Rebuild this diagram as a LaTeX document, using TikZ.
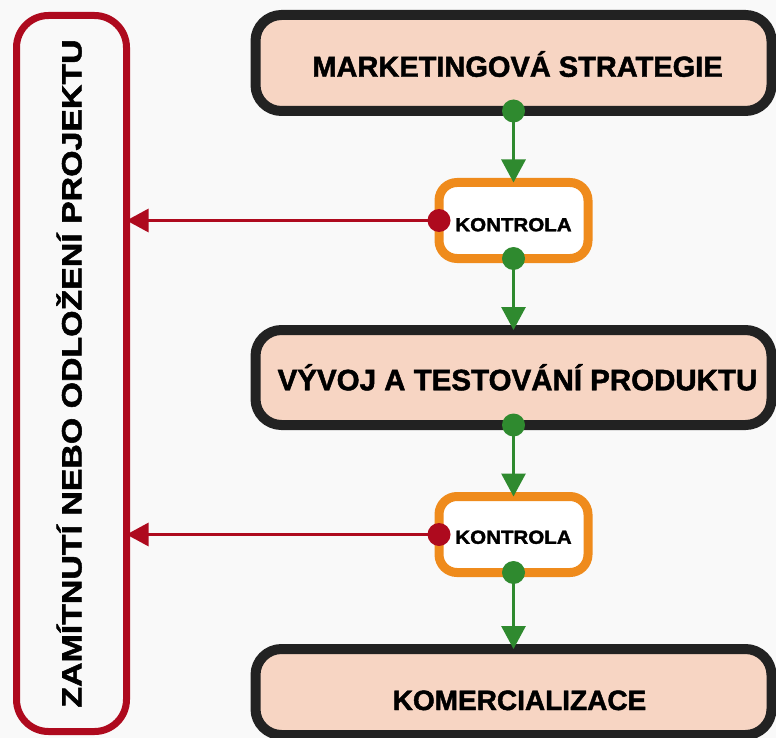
\documentclass[tikz,border=0pt]{standalone}
\usepackage{fontspec}
\setmainfont{Liberation Sans}[BoldFeatures={FakeBold=1.6}]
\usetikzlibrary{arrows.meta}
\definecolor{peach}{HTML}{F7D5C3}
\definecolor{darkline}{HTML}{222222}
\definecolor{orangeline}{HTML}{EF8B1C}
\definecolor{redline}{HTML}{AE0A1E}
\definecolor{greenline}{HTML}{2F8A2F}
\definecolor{bg}{HTML}{F9F9F9}
\begin{document}
\begin{tikzpicture}[x=1pt,y=-1pt,
  stagebox/.style={draw=darkline, fill=peach, line width=10pt, rounded corners=26pt,
    outer sep=0pt, inner sep=0pt, minimum width=516pt,
    font=\bfseries\fontsize{29}{31}\selectfont, text height=20.5pt, text depth=0pt},
  checkbox/.style={draw=orangeline, fill=white, line width=9pt, rounded corners=18pt,
    outer sep=0pt, inner sep=0pt, minimum width=149pt, minimum height=76pt,
    font=\bfseries\fontsize{19}{21}\selectfont, text height=13.6pt, text depth=0pt},
  rejectbox/.style={draw=redline, fill=bg, line width=7pt, rounded corners=32pt, rotate=90,
    outer sep=0pt, inner sep=0pt, minimum width=716pt, minimum height=110pt,
    font=\bfseries\fontsize{28}{30}\selectfont, text height=20pt, text depth=0pt},
  gdot/.style={circle, fill=greenline, minimum size=23pt, inner sep=0pt},
  rdot/.style={circle, fill=redline, minimum size=23pt, inner sep=0pt},
  garrow/.style={draw=greenline, line width=3pt, -{Triangle[width=24pt,length=23pt]}},
  rarrow/.style={draw=redline, line width=3pt, -{Triangle[width=23pt,length=22pt]}}
]
\fill[bg] (0,0) rectangle (776,738);
\useasboundingbox (0,0) rectangle (776,738);

% reject box
\node[rejectbox] (rej) at (71.5,373.5) {\scalebox{1.21}[1]{ZAMÍTNUTÍ NEBO ODLOŽENÍ PROJEKTU}};

% stage boxes
\node[stagebox, minimum height=96pt] (b1) at (513.5,63) {\hspace*{8pt}\raisebox{-3.5pt}{MARKETINGOVÁ STRATEGIE}};
\node[stagebox, minimum height=95pt, font=\bfseries\fontsize{29.5}{31}\selectfont] (b2) at (513.5,377.5) {\hspace*{8pt}\raisebox{-2.5pt}{VÝVOJ A TESTOVÁNÍ PRODUKTU}};
\node[stagebox, minimum height=86pt, font=\bfseries\fontsize{28}{30}\selectfont, text height=20pt] (b3) at (513.5,692) {\hspace*{12pt}\raisebox{-8pt}{KOMERCIALIZACE}};

% check boxes
\node[checkbox] (k1) at (513.5,220.5) {\raisebox{-4pt}{\scalebox{1.08}[1]{KONTROLA}}};
\node[checkbox] (k2) at (513.5,534.5) {\raisebox{-2.5pt}{\scalebox{1.08}[1]{KONTROLA}}};

% green flow
\node[gdot] (g1) at (b1.south) {};
\node[gdot] (g2) at (k1.south) {};
\node[gdot] (g3) at (b2.south) {};
\node[gdot] (g4) at (k2.south) {};
\draw[garrow] (g1.center) -- (k1.north);
\draw[garrow] (g2.center) -- (b2.north);
\draw[garrow] (g3.center) -- (k2.north);
\draw[garrow] (g4.center) -- (b3.north);

% red rejection
\node[rdot] (r1) at (k1.west) {};
\node[rdot] (r2) at (k2.west) {};
\draw[rarrow] (r1.center) -- (r1.center -| rej.south);
\draw[rarrow] (r2.center) -- (r2.center -| rej.south);
\end{tikzpicture}
\end{document}
